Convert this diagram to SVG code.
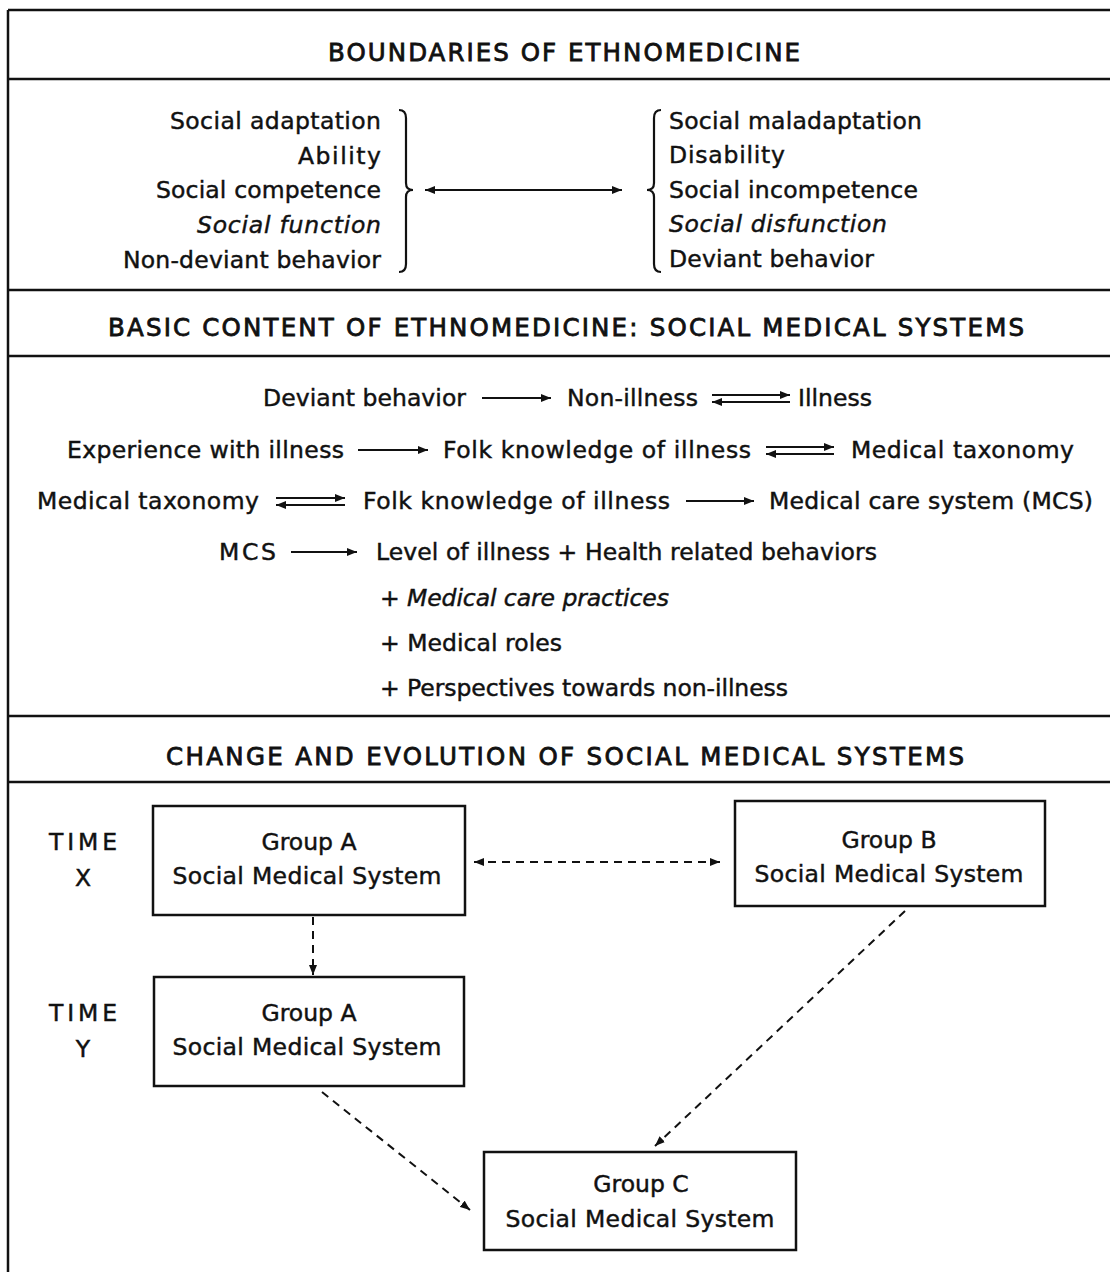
<svg xmlns="http://www.w3.org/2000/svg" width="1110" height="1272" viewBox="0 0 1110 1272">
<defs>
<style>
text{font-family:"DejaVu Sans","Liberation Sans",Arial,sans-serif;font-size:23.5px;fill:#111;stroke:#111;stroke-width:0.45;}
.t{text-anchor:middle;font-size:24.5px;stroke-width:0.8;}
.it{font-style:italic;}
.m{text-anchor:middle;}
.e{text-anchor:end;}
.frame{stroke:#111;stroke-width:2.5;fill:none;}
.box{stroke:#111;stroke-width:2.5;fill:#fff;}
.ar{stroke:#111;stroke-width:2;fill:none;}
.da{stroke:#111;stroke-width:2;fill:none;stroke-dasharray:8 6;}
.br{stroke:#111;stroke-width:2.2;fill:none;}
</style>
<marker id="ah" markerUnits="userSpaceOnUse" markerWidth="10" markerHeight="8" refX="10" refY="4" orient="auto-start-reverse">
<path d="M0,0 L10,4 L0,8 z" fill="#111"/>
</marker>
</defs>
<rect width="1110" height="1272" fill="#fff"/>

<g id="frame">
<path class="frame" d="M8,10 V1272 M8,10 H1110 M8,79 H1110 M8,290 H1110 M8,356 H1110 M8,716 H1110 M8,782 H1110"/>
</g>

<g id="titles">
<text class="t" x="564" y="61" textLength="472" lengthAdjust="spacing">BOUNDARIES OF ETHNOMEDICINE</text>
<text class="t" x="566" y="336" textLength="916" lengthAdjust="spacing">BASIC CONTENT OF ETHNOMEDICINE: SOCIAL MEDICAL SYSTEMS</text>
<text class="t" x="565" y="765" textLength="798" lengthAdjust="spacing">CHANGE AND EVOLUTION OF SOCIAL MEDICAL SYSTEMS</text>
</g>

<g id="boundaries-left">
<text class="e" x="381" y="129" textLength="211" lengthAdjust="spacing">Social adaptation</text>
<text class="e" x="381" y="164" textLength="83" lengthAdjust="spacing">Ability</text>
<text class="e" x="381" y="198" textLength="225" lengthAdjust="spacing">Social competence</text>
<text class="e it" x="381" y="233" textLength="184" lengthAdjust="spacing">Social function</text>
<text class="e" x="381" y="268" textLength="258" lengthAdjust="spacing">Non-deviant behavior</text>
</g>

<g id="boundaries-right">
<text x="669" y="129" textLength="253" lengthAdjust="spacing">Social maladaptation</text>
<text x="669" y="163" textLength="116" lengthAdjust="spacing">Disability</text>
<text x="669" y="198" textLength="249" lengthAdjust="spacing">Social incompetence</text>
<text class="it" x="669" y="232" textLength="218" lengthAdjust="spacing">Social disfunction</text>
<text x="669" y="267" textLength="205" lengthAdjust="spacing">Deviant behavior</text>
</g>

<g id="braces">
<path class="br" d="M399,110 Q406,110 406,118 L406,183 Q406,190 413,190 Q406,190 406,197 L406,264 Q406,272 399,272"/>
<path class="br" d="M661,110 Q654,110 654,118 L654,183 Q654,190 647,190 Q654,190 654,197 L654,264 Q654,272 661,272"/>
</g>

<g id="content">
<text x="263" y="406" textLength="203" lengthAdjust="spacing">Deviant behavior</text>
<text x="567" y="406" textLength="131" lengthAdjust="spacing">Non-illness</text>
<text x="798" y="406" textLength="74" lengthAdjust="spacing">Illness</text>

<text x="67" y="458" textLength="277" lengthAdjust="spacing">Experience with illness</text>
<text x="443" y="458" textLength="308" lengthAdjust="spacing">Folk knowledge of illness</text>
<text x="851" y="458" textLength="223" lengthAdjust="spacing">Medical taxonomy</text>

<text x="37" y="509" textLength="222" lengthAdjust="spacing">Medical taxonomy</text>
<text x="363" y="509" textLength="307" lengthAdjust="spacing">Folk knowledge of illness</text>
<text x="769" y="509" textLength="324" lengthAdjust="spacing">Medical care system (MCS)</text>

<text x="219" y="560" textLength="57" lengthAdjust="spacing">MCS</text>
<text x="376" y="560" textLength="501" lengthAdjust="spacing">Level of illness + Health related behaviors</text>

<text x="380" y="606" textLength="289" lengthAdjust="spacing">+ <tspan class="it">Medical care practices</tspan></text>
<text x="380" y="651" textLength="182" lengthAdjust="spacing">+ Medical roles</text>
<text x="380" y="696" textLength="408" lengthAdjust="spacing">+ Perspectives towards non-illness</text>
</g>

<g id="time-labels">
<text class="m" x="83" y="850" textLength="68" lengthAdjust="spacing">TIME</text>
<text class="m" x="83" y="886">X</text>
<text class="m" x="83" y="1021" textLength="68" lengthAdjust="spacing">TIME</text>
<text class="m" x="83" y="1057">Y</text>
</g>

<g id="groupA-x">
<rect class="box" x="153" y="806" width="312" height="109"/>
<text class="m" x="309" y="850">Group A</text>
<text class="m" x="307" y="884" textLength="269" lengthAdjust="spacing">Social Medical System</text>
</g>

<g id="groupB">
<rect class="box" x="735" y="801" width="310" height="105"/>
<text class="m" x="889" y="848">Group B</text>
<text class="m" x="889" y="882" textLength="269" lengthAdjust="spacing">Social Medical System</text>
</g>

<g id="groupA-y">
<rect class="box" x="154" y="977" width="310" height="109"/>
<text class="m" x="309" y="1021">Group A</text>
<text class="m" x="307" y="1055" textLength="269" lengthAdjust="spacing">Social Medical System</text>
</g>

<g id="groupC">
<rect class="box" x="484" y="1152" width="312" height="98"/>
<text class="m" x="641" y="1192">Group C</text>
<text class="m" x="640" y="1227" textLength="269" lengthAdjust="spacing">Social Medical System</text>
</g>

<g id="connectors">
<line class="ar" x1="425" y1="190" x2="622" y2="190" marker-start="url(#ah)" marker-end="url(#ah)"/>

<line class="ar" x1="482" y1="398" x2="551" y2="398" marker-end="url(#ah)"/>
<line class="ar" x1="712" y1="395" x2="790" y2="395" marker-end="url(#ah)"/>
<line class="ar" x1="712" y1="402" x2="790" y2="402" marker-start="url(#ah)"/>

<line class="ar" x1="358" y1="450" x2="428" y2="450" marker-end="url(#ah)"/>
<line class="ar" x1="766" y1="447" x2="834" y2="447" marker-end="url(#ah)"/>
<line class="ar" x1="766" y1="454" x2="834" y2="454" marker-start="url(#ah)"/>

<line class="ar" x1="276" y1="498" x2="345" y2="498" marker-end="url(#ah)"/>
<line class="ar" x1="276" y1="505" x2="345" y2="505" marker-start="url(#ah)"/>
<line class="ar" x1="686" y1="501" x2="754" y2="501" marker-end="url(#ah)"/>

<line class="ar" x1="291" y1="552" x2="357" y2="552" marker-end="url(#ah)"/>

<line class="da" x1="474" y1="862" x2="720" y2="862" marker-start="url(#ah)" marker-end="url(#ah)"/>
<line class="da" x1="313" y1="917" x2="313" y2="975" marker-end="url(#ah)"/>
<line class="da" x1="322" y1="1092" x2="470" y2="1210" marker-end="url(#ah)"/>
<line class="da" x1="905" y1="911" x2="655" y2="1146" marker-end="url(#ah)"/>
</g>
</svg>
